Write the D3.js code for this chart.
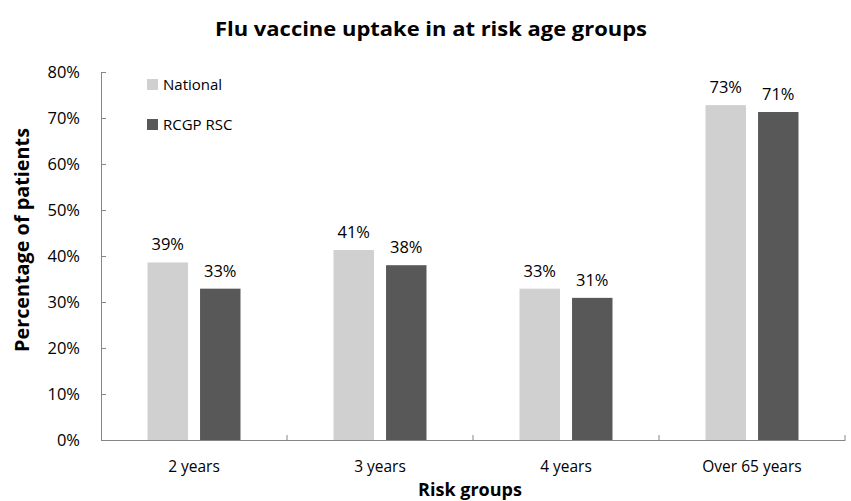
<!DOCTYPE html>
<html>
<head>
<meta charset="utf-8">
<script src="https://cdn.jsdelivr.net/npm/d3@7"></script>
<style>
  body { margin: 0; background: #fff; }
  text { font-family: "Open Sans", sans-serif; fill: #000; }
</style>
</head>
<body>
<div id="chart"></div>
<script>
// chart data
var categories = ["2 years", "3 years", "4 years", "Over 65 years"];
var seriesNames = ["National", "RCGP RSC"];
var national = [38.6, 41.3, 32.9, 72.8];
var rcgp = [32.9, 38.0, 30.9, 71.3];
var yTicks = [0, 10, 20, 30, 40, 50, 60, 70, 80];

var svgWidth = 851;
var svgHeight = 501;

var margin = { top: 72, right: 6, bottom: 61, left: 101 };
var chartWidth = svgWidth - margin.left - margin.right;
var chartHeight = svgHeight - margin.top - margin.bottom;

var colors = { "National": "#d0d0d0", "RCGP RSC": "#585858" };

var svg = d3.select("#chart")
    .append("svg")
    .attr("width", svgWidth)
    .attr("height", svgHeight);

var chartGroup = svg.append("g")
    .attr("transform", `translate(${margin.left}, ${margin.top})`);

// scales
var x0 = d3.scaleBand()
    .domain(categories)
    .range([0, chartWidth])
    .padding(0);

var x1 = d3.scaleBand()
    .domain(seriesNames)
    .range([x0.bandwidth() / 2 - 46.5, x0.bandwidth() / 2 + 46.5])
    .paddingInner(0.23);

var y = d3.scaleLinear()
    .domain([0, 80])
    .range([chartHeight, 0]);

// build rows from the arrays
var rows = categories.map(function(c, i) {
    return { cat: c, values: [
        { name: "National", value: national[i] },
        { name: "RCGP RSC", value: rcgp[i] }
    ] };
});

// axes
var yAxis = d3.axisLeft(y)
    .tickValues(yTicks)
    .tickSizeInner(-5)
    .tickSizeOuter(0)
    .tickPadding(21)
    .tickFormat(d => d + "%");

var yG = chartGroup.append("g").call(yAxis);
yG.select(".domain").attr("stroke", "#868686");
yG.selectAll(".tick line").attr("stroke", "#868686");
yG.selectAll(".tick text").style("font-size", "16.5px").attr("fill", "#000");

var xAxis = d3.axisBottom(x0)
    .tickValues([])
    .tickSizeOuter(0);

var xG = chartGroup.append("g")
    .attr("transform", `translate(0, ${chartHeight})`)
    .call(xAxis);
xG.select(".domain").attr("stroke", "#868686");

// category separator ticks (inside, upward)
chartGroup.selectAll(".cat-tick")
    .data(categories)
    .enter()
    .append("line")
    .attr("x1", d => x0(d) + x0.bandwidth())
    .attr("x2", d => x0(d) + x0.bandwidth())
    .attr("y1", chartHeight)
    .attr("y2", chartHeight - 5)
    .attr("stroke", "#868686");

// category labels
chartGroup.selectAll(".cat-label")
    .data(categories)
    .enter()
    .append("text")
    .attr("x", d => x0(d) + x0.bandwidth() / 2)
    .attr("y", chartHeight + 32)
    .attr("text-anchor", "middle")
    .style("font-size", "15.5px")
    .text(d => d);

// bars
var groups = chartGroup.selectAll(".grp")
    .data(rows)
    .enter()
    .append("g")
    .attr("transform", d => `translate(${x0(d.cat)}, 0)`);

groups.selectAll("rect")
    .data(d => d.values)
    .enter()
    .append("rect")
    .attr("x", d => x1(d.name))
    .attr("width", x1.bandwidth())
    .attr("y", d => y(d.value))
    .attr("height", d => chartHeight - y(d.value))
    .attr("fill", d => colors[d.name]);

groups.selectAll(".val")
    .data(d => d.values)
    .enter()
    .append("text")
    .attr("x", d => x1(d.name) + x1.bandwidth() / 2)
    .attr("y", d => y(d.value) - 12)
    .attr("text-anchor", "middle")
    .style("font-size", "16.5px")
    .text(d => Math.round(d.value) + "%");

// legend
var legend = svg.append("g")
    .attr("transform", "translate(147, 0)");

legend.selectAll("rect")
    .data(seriesNames)
    .enter()
    .append("rect")
    .attr("x", 0)
    .attr("y", (d, i) => 79 + i * 40)
    .attr("width", 11)
    .attr("height", 11)
    .attr("fill", d => colors[d]);

legend.selectAll("text")
    .data(seriesNames)
    .enter()
    .append("text")
    .attr("x", 16)
    .attr("y", (d, i) => 90 + i * 40)
    .style("font-size", "15px")
    .text(d => d);

// title
svg.append("text")
    .attr("x", 431)
    .attr("y", 36)
    .attr("text-anchor", "middle")
    .attr("textLength", 432)
    .attr("lengthAdjust", "spacingAndGlyphs")
    .style("font-size", "20px")
    .style("font-weight", "bold")
    .text("Flu vaccine uptake in at risk age groups");

// axis titles
svg.append("text")
    .attr("x", 470)
    .attr("y", 496)
    .attr("text-anchor", "middle")
    .style("font-size", "18px")
    .style("font-weight", "bold")
    .text("Risk groups");

svg.append("text")
    .attr("transform", "translate(29, 240) rotate(-90)")
    .attr("text-anchor", "middle")
    .attr("textLength", 224)
    .attr("lengthAdjust", "spacingAndGlyphs")
    .style("font-size", "19px")
    .style("font-weight", "bold")
    .text("Percentage of patients");
</script>
</body>
</html>
